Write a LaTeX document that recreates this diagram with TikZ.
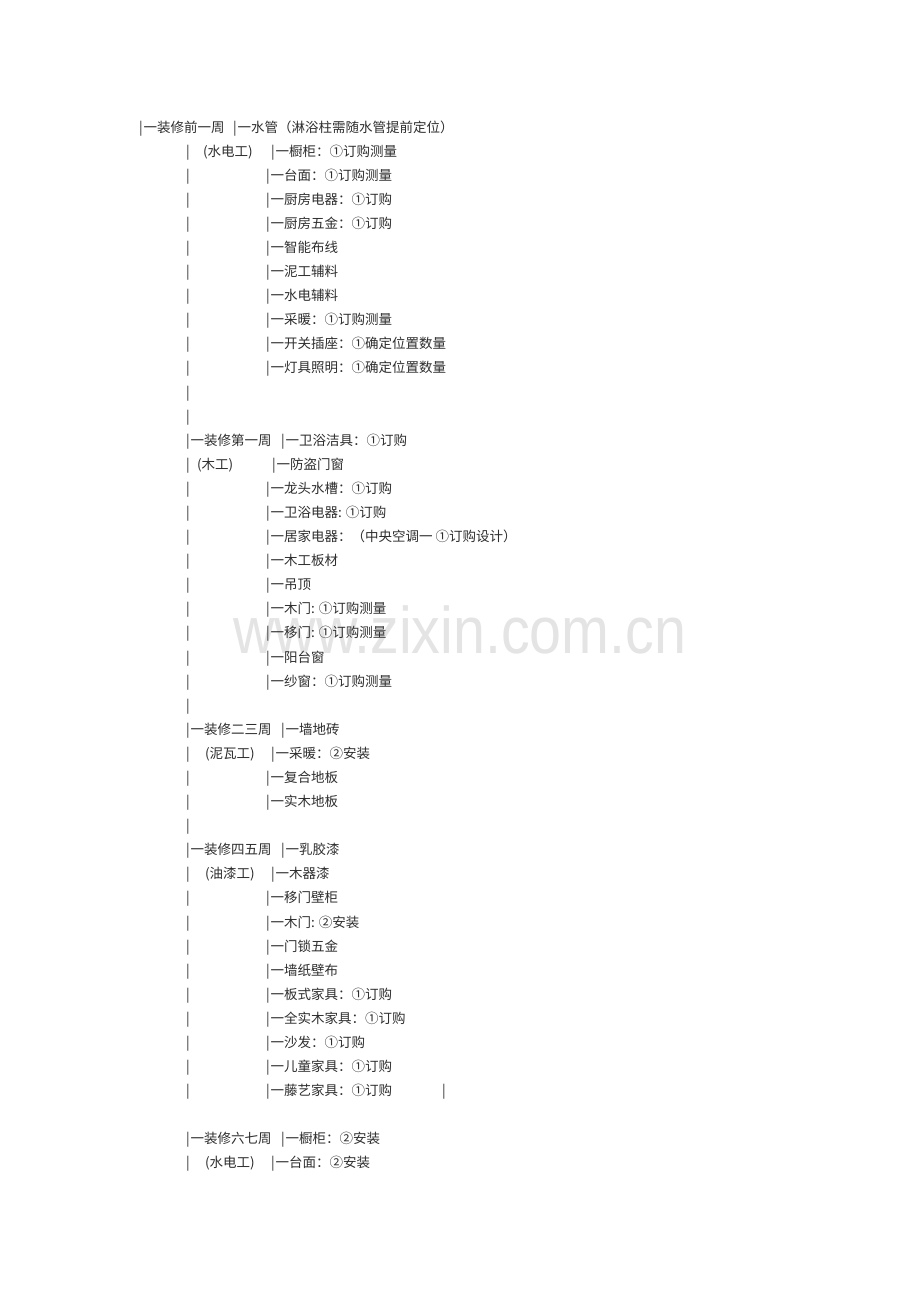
\documentclass[tikz,border=0pt]{standalone}
\usepackage{fontspec}
\newfontfamily\cjk{Noto Sans CJK SC}
\newfontfamily\wmfont{Liberation Sans}
\definecolor{ink}{HTML}{2E2E2E}
\definecolor{wm}{HTML}{E4E4E4}
\newcommand\bb{|\hspace{1pt}}
\begin{document}
\begin{tikzpicture}[x=1pt,y=-1pt,
  ln/.style={anchor=base west,inner sep=0pt,outer sep=0pt,text=ink,font=\cjk\fontsize{13.5}{16}\selectfont},
  wmark/.style={anchor=base west,inner sep=0pt,text=wm,font=\wmfont\fontsize{66}{70}\selectfont,xscale=0.87}]
\useasboundingbox[fill=white] (0,0) rectangle (920,1302);
% watermark
\node[wmark] (wm) at (233,653) {www.zixin.com.cn};
% row 0
\node[ln] (r0a) at (139,132) {\bb 一装修前一周};
\node[ln] (r0b) at (233,132) {\bb 一水管（淋浴柱需随水管提前定位）};
% row 1
\node[ln] (r1a) at (186,156.1) {|};
\node[ln] (r1b) at (203,156.1) {(水电工)};
\node[ln] (r1c) at (271,156.1) {\bb 一橱柜：①订购测量};
% rows 2-10
\node[ln] (r2a) at (186,180.2) {|};
\node[ln] (r2c) at (266,180.2) {\bb 一台面：①订购测量};
\node[ln] (r3a) at (186,204.3) {|};
\node[ln] (r3c) at (266,204.3) {\bb 一厨房电器：①订购};
\node[ln] (r4a) at (186,228.4) {|};
\node[ln] (r4c) at (266,228.4) {\bb 一厨房五金：①订购};
\node[ln] (r5a) at (186,252.4) {|};
\node[ln] (r5c) at (266,252.4) {\bb 一智能布线};
\node[ln] (r6a) at (186,276.5) {|};
\node[ln] (r6c) at (266,276.5) {\bb 一泥工辅料};
\node[ln] (r7a) at (186,300.6) {|};
\node[ln] (r7c) at (266,300.6) {\bb 一水电辅料};
\node[ln] (r8a) at (186,324.7) {|};
\node[ln] (r8c) at (266,324.7) {\bb 一采暖：①订购测量};
\node[ln] (r9a) at (186,348.8) {|};
\node[ln] (r9c) at (266,348.8) {\bb 一开关插座：①确定位置数量};
\node[ln] (r10a) at (186,372.9) {|};
\node[ln] (r10c) at (266,372.9) {\bb 一灯具照明：①确定位置数量};
\node[ln] (r11a) at (186,397.0) {|};
\node[ln] (r12a) at (186,421.1) {|};
% row 13
\node[ln] (r13a) at (186,445.2) {\bb 一装修第一周};
\node[ln] (r13c) at (281,445.2) {\bb 一卫浴洁具：①订购};
\node[ln] (r14a) at (186,469.3) {|};
\node[ln] (r14b) at (197,469.3) {(木工)};
\node[ln] (r14c) at (272,469.3) {\bb 一防盗门窗};
\node[ln] (r15a) at (186,493.3) {|};
\node[ln] (r15c) at (266,493.3) {\bb 一龙头水槽：①订购};
\node[ln] (r16a) at (186,517.4) {|};
\node[ln] (r16c) at (266,517.4) {\bb 一卫浴电器: ①订购};
\node[ln] (r17a) at (186,541.5) {|};
\node[ln] (r17c) at (266,541.5) {\bb 一居家电器：（中央空调一 ①订购设计）};
\node[ln] (r18a) at (186,565.6) {|};
\node[ln] (r18c) at (266,565.6) {\bb 一木工板材};
\node[ln] (r19a) at (186,589.7) {|};
\node[ln] (r19c) at (266,589.7) {\bb 一吊顶};
\node[ln] (r20a) at (186,613.8) {|};
\node[ln] (r20c) at (266,613.8) {\bb 一木门: ①订购测量};
\node[ln] (r21a) at (186,637.9) {|};
\node[ln] (r21c) at (266,637.9) {\bb 一移门: ①订购测量};
\node[ln] (r22a) at (186,662.0) {|};
\node[ln] (r22c) at (266,662.0) {\bb 一阳台窗};
\node[ln] (r23a) at (186,686.1) {|};
\node[ln] (r23c) at (266,686.1) {\bb 一纱窗：①订购测量};
\node[ln] (r24a) at (186,710.2) {|};
% row 25
\node[ln] (r25a) at (186,734.3) {\bb 一装修二三周};
\node[ln] (r25c) at (281,734.3) {\bb 一墙地砖};
\node[ln] (r26a) at (186,758.3) {|};
\node[ln] (r26b) at (205,758.3) {(泥瓦工)};
\node[ln] (r26c) at (271,758.3) {\bb 一采暖：②安装};
\node[ln] (r27a) at (186,782.4) {|};
\node[ln] (r27c) at (266,782.4) {\bb 一复合地板};
\node[ln] (r28a) at (186,806.5) {|};
\node[ln] (r28c) at (266,806.5) {\bb 一实木地板};
\node[ln] (r29a) at (186,830.6) {|};
% row 30
\node[ln] (r30a) at (186,854.7) {\bb 一装修四五周};
\node[ln] (r30c) at (281,854.7) {\bb 一乳胶漆};
\node[ln] (r31a) at (186,878.8) {|};
\node[ln] (r31b) at (205,878.8) {(油漆工)};
\node[ln] (r31c) at (271,878.8) {\bb 一木器漆};
\node[ln] (r32a) at (186,902.9) {|};
\node[ln] (r32c) at (266,902.9) {\bb 一移门壁柜};
\node[ln] (r33a) at (186,927.0) {|};
\node[ln] (r33c) at (266,927.0) {\bb 一木门: ②安装};
\node[ln] (r34a) at (186,951.1) {|};
\node[ln] (r34c) at (266,951.1) {\bb 一门锁五金};
\node[ln] (r35a) at (186,975.2) {|};
\node[ln] (r35c) at (266,975.2) {\bb 一墙纸壁布};
\node[ln] (r36a) at (186,999.2) {|};
\node[ln] (r36c) at (266,999.2) {\bb 一板式家具：①订购};
\node[ln] (r37a) at (186,1023.3) {|};
\node[ln] (r37c) at (266,1023.3) {\bb 一全实木家具：①订购};
\node[ln] (r38a) at (186,1047.4) {|};
\node[ln] (r38c) at (266,1047.4) {\bb 一沙发：①订购};
\node[ln] (r39a) at (186,1071.5) {|};
\node[ln] (r39c) at (266,1071.5) {\bb 一儿童家具：①订购};
\node[ln] (r40a) at (186,1095.6) {|};
\node[ln] (r40c) at (266,1095.6) {\bb 一藤艺家具：①订购};
\node[ln] (r40d) at (442,1095.6) {|};
% row 42
\node[ln] (r42a) at (186,1143.8) {\bb 一装修六七周};
\node[ln] (r42c) at (281,1143.8) {\bb 一橱柜：②安装};
\node[ln] (r43a) at (186,1167.9) {|};
\node[ln] (r43b) at (205,1167.9) {(水电工)};
\node[ln] (r43c) at (271,1167.9) {\bb 一台面：②安装};
\end{tikzpicture}
\end{document}
